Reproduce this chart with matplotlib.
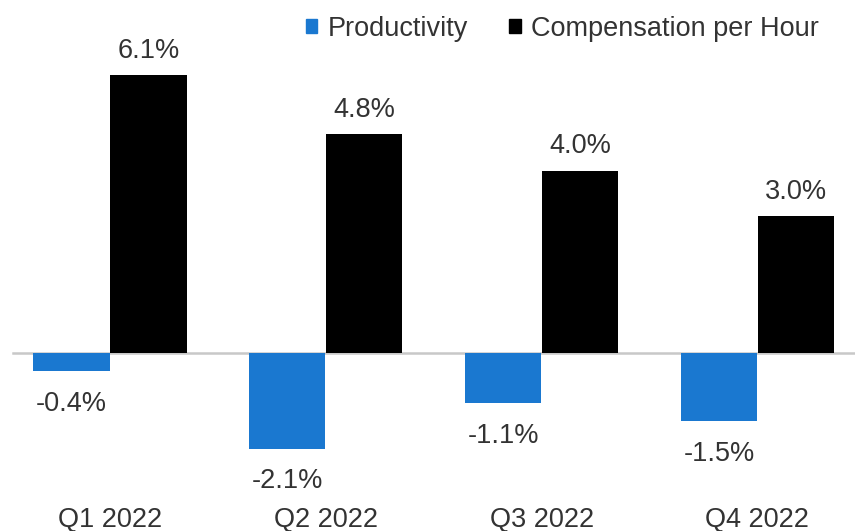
import matplotlib
matplotlib.use("Agg")
import matplotlib.pyplot as plt
from matplotlib.patches import Patch
import numpy as np

categories = ["Q1 2022", "Q2 2022", "Q3 2022", "Q4 2022"]
productivity = [-0.4, -2.1, -1.1, -1.5]
compensation = [6.1, 4.8, 4.0, 3.0]
series_names = ["Productivity", "Compensation per Hour"]

BLUE = "#1a78d0"
BLACK = "#000000"
TEXT = "#333333"
FS = 19.5

plt.rcParams["font.family"] = ["Liberation Sans", "DejaVu Sans"]

fig = plt.figure(figsize=(8.55, 5.31), dpi=100)
ax = fig.add_axes([0, 41 / 531, 1, 490 / 531])

x = np.arange(len(categories))
w = 0.353
b1 = ax.bar(x - w / 2 - 0.002, productivity, width=w, color=BLUE, zorder=2)
b2 = ax.bar(x + w / 2 + 0.002, compensation, width=w, color=BLACK, zorder=2)

for rect, v in zip(b1, productivity):
    cx = rect.get_x() + rect.get_width() / 2
    ax.annotate(f"{v:.1f}%", (cx, v), xytext=(0, -14), textcoords="offset points",
                ha="center", va="top", fontsize=FS, color=TEXT)
for rect, v in zip(b2, compensation):
    cx = rect.get_x() + rect.get_width() / 2
    ax.annotate(f"{v:.1f}%", (cx, v), xytext=(0, 8), textcoords="offset points",
                ha="center", va="bottom", fontsize=FS, color=TEXT)

ax.axhline(0, xmin=13 / 855, xmax=1, color="#c8c8c8", lw=1.8, zorder=1)

ax.set_xlim(-110 / 215.8, (855 - 110) / 215.8)
ax.set_ylim(-(490 - 353) / 45.6, 353 / 45.6)

ax.set_xticks(x)
ax.set_xticklabels(categories, fontsize=FS, color=TEXT)
ax.tick_params(axis="x", length=0, pad=12)
ax.set_yticks([])
for s in ax.spines.values():
    s.set_visible(False)
ax.patch.set_alpha(0)

handles = [Patch(color=BLUE), Patch(color=BLACK)]
leg = fig.legend(handles, series_names, loc="upper left",
                 bbox_to_anchor=(306 / 855, 1 - 16 / 531), ncol=2, frameon=False,
                 fontsize=FS, handlelength=0.42, handleheight=0.42,
                 handletextpad=0.4, columnspacing=1.5, borderpad=0, borderaxespad=0)
for t in leg.get_texts():
    t.set_color(TEXT)

fig.savefig("out.png", dpi=100)
